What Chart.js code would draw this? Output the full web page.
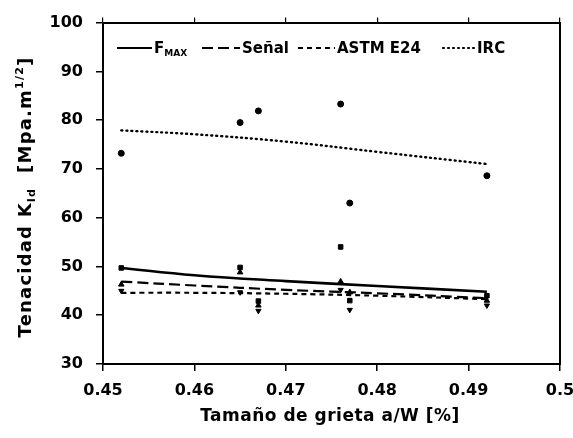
<!DOCTYPE html>
<html>
<head>
<meta charset="utf-8">
<script src="https://cdn.jsdelivr.net/npm/chart.js@4/dist/chart.umd.min.js"></script>
<style>
  html, body { margin: 0; padding: 0; background: #fff; }
  #wrap { width: 573px; height: 438px; position: relative; }
</style>
</head>
<body>
<div id="wrap"><canvas id="chart"></canvas></div>
<script>
// measured specimens (crack size a/W) and toughness values per method
const testSize = [0.452, 0.465, 0.467, 0.476, 0.477, 0.492];
const fmaxPoints = [49.7, 49.8, 42.9, 54.0, 43.0, 44.0];
const senalPoints = [46.3, 48.8, 42.0, 46.9, 44.7, 43.0];
const astmPoints = [45.0, 44.7, 40.9, 45.2, 41.1, 42.0];
const ircPoints = [73.2, 79.5, 81.9, 83.3, 63.0, 68.6];

// fitted curves
const fitSize = [0.452, 0.46, 0.47, 0.48, 0.492];
const fmaxFit = [49.7, 48.2, 47.0, 46.0, 44.8];
const senalFit = [46.9, 46.1, 45.2, 44.5, 43.5];
const astmFit = [44.6, 44.6, 44.4, 44.0, 43.3];
const ircFit = [77.9, 77.1, 75.6, 73.5, 71.0];

const xTicks = [0.45, 0.46, 0.47, 0.48, 0.49, 0.5];
const yTicks = [30, 40, 50, 60, 70, 80, 90, 100];

const FONT = '"DejaVu Sans", sans-serif';
const toXY = (xs, ys) => xs.map((x, i) => ({ x, y: ys[i] }));

function fitLine(ys, dash, width) {
  return {
    data: toXY(fitSize, ys),
    showLine: true,
    borderColor: '#000',
    borderWidth: width,
    borderDash: dash,
    borderCapStyle: dash.length && dash[0] < 3 ? 'round' : 'butt',
    tension: 0.4,
    pointRadius: 0,
    fill: false
  };
}

function markers(ys, style, radius, rotation) {
  return {
    data: toXY(testSize, ys),
    showLine: false,
    pointStyle: style,
    pointRadius: radius,
    pointRotation: rotation || 0,
    pointBackgroundColor: '#000',
    pointBorderColor: '#000',
    pointBorderWidth: 1
  };
}

// draws a run of text pieces, some raised or lowered
function richText(ctx, parts, x, y, align, spacing) {
  ctx.letterSpacing = (spacing || 0) + 'px';
  let total = 0;
  parts.forEach((p) => {
    ctx.font = `bold ${p.size}px ${FONT}`;
    total += ctx.measureText(p.t).width;
  });
  let cx = align === 'center' ? x - total / 2 : x;
  parts.forEach((p) => {
    ctx.font = `bold ${p.size}px ${FONT}`;
    ctx.fillText(p.t, cx, y + (p.dy || 0));
    cx += ctx.measureText(p.t).width;
  });
  ctx.letterSpacing = '0px';
}

const legendItems = [
  { x: 117, len: 35, dash: [], parts: [{ t: 'F', size: 15 }, { t: 'MAX', size: 9, dy: 3 }] },
  { x: 202, len: 38, dash: [11, 5], parts: [{ t: 'Señal', size: 15 }] },
  { x: 298, len: 37, dash: [5, 4], parts: [{ t: 'ASTM E24', size: 15 }] },
  { x: 443, len: 32, dash: [1, 4], parts: [{ t: 'IRC', size: 15 }] }
];

const textPlugin = {
  id: 'texts',
  afterDraw(chart) {
    const ctx = chart.ctx;
    ctx.save();
    ctx.fillStyle = '#000';
    ctx.textBaseline = 'alphabetic';

    // legend
    const ly = 48;
    legendItems.forEach((it) => {
      ctx.beginPath();
      ctx.setLineDash(it.dash);
      ctx.lineWidth = 2.2;
      ctx.lineCap = it.dash[0] === 1 ? 'round' : 'butt';
      ctx.strokeStyle = '#000';
      ctx.moveTo(it.x, ly);
      ctx.lineTo(it.x + it.len, ly);
      ctx.stroke();
      ctx.setLineDash([]);
      richText(ctx, it.parts, it.x + it.len + 2, ly + 5, 'left');
    });

    // x title
    richText(ctx, [{ t: 'Tamaño de grieta a/W [%]', size: 17 }], 330, 421, 'center', 0.5);

    // y title, rotated
    ctx.translate(31, 197);
    ctx.rotate(-Math.PI / 2);
    richText(ctx, [
      { t: 'Tenacidad K', size: 18 },
      { t: 'Id', size: 11, dy: 4 },
      { t: '  [Mpa.m', size: 18 },
      { t: '1/2', size: 11, dy: -8 },
      { t: ']', size: 18 }
    ], 0, 0, 'center', 1.2);
    ctx.restore();
  }
};

const axisGrid = { drawOnChartArea: false, color: '#000', lineWidth: 1.5, tickLength: 7 };
const axisBorder = { color: '#000', width: 2 };
const fmtX = (v) => String(Number(v.toFixed(2)));

new Chart(document.getElementById('chart'), {
  type: 'scatter',
  data: {
    datasets: [
      fitLine(fmaxFit, [], 2.6),
      fitLine(senalFit, [11, 5], 2.2),
      fitLine(astmFit, [5, 4], 2.2),
      fitLine(ircFit, [1, 4], 2.4),
      markers(ircPoints, 'circle', 3),
      markers(fmaxPoints, 'rect', 3.2),
      markers(senalPoints, 'triangle', 3.2),
      markers(astmPoints, 'triangle', 3, 180)
    ]
  },
  options: {
    responsive: true,
    maintainAspectRatio: false,
    animation: false,
    layout: { padding: 0 },
    plugins: { legend: { display: false }, tooltip: { enabled: false } },
    scales: {
      x: {
        type: 'linear',
        min: xTicks[0],
        max: xTicks[xTicks.length - 1],
        afterBuildTicks: (s) => { s.ticks = xTicks.map((v) => ({ value: v })); },
        ticks: { color: '#000', padding: 10, callback: fmtX, font: { family: FONT, size: 16, weight: 'bold' }, maxRotation: 0 },
        grid: axisGrid,
        border: axisBorder,
        afterFit: (s) => { s.height = 74; s.paddingRight = 0; }
      },
      x2: {
        type: 'linear',
        position: 'top',
        min: xTicks[0],
        max: xTicks[xTicks.length - 1],
        afterBuildTicks: (s) => { s.ticks = xTicks.map((v) => ({ value: v })); },
        ticks: { display: false },
        grid: { drawOnChartArea: false, color: '#000', lineWidth: 1.2, tickLength: 5 },
        border: axisBorder,
        afterFit: (s) => { s.height = 20; }
      },
      y: {
        min: yTicks[0],
        max: yTicks[yTicks.length - 1],
        afterBuildTicks: (s) => { s.ticks = yTicks.map((v) => ({ value: v })); },
        ticks: { color: '#000', padding: 13, font: { family: FONT, size: 16, weight: 'bold' } },
        grid: axisGrid,
        border: axisBorder,
        afterFit: (s) => { s.width = 103; }
      },
      y2: {
        position: 'right',
        min: yTicks[0],
        max: yTicks[yTicks.length - 1],
        ticks: { display: false },
        grid: { drawOnChartArea: false, drawTicks: false },
        border: axisBorder,
        afterFit: (s) => { s.width = 13; }
      }
    }
  },
  plugins: [textPlugin]
});
</script>
</body>
</html>
